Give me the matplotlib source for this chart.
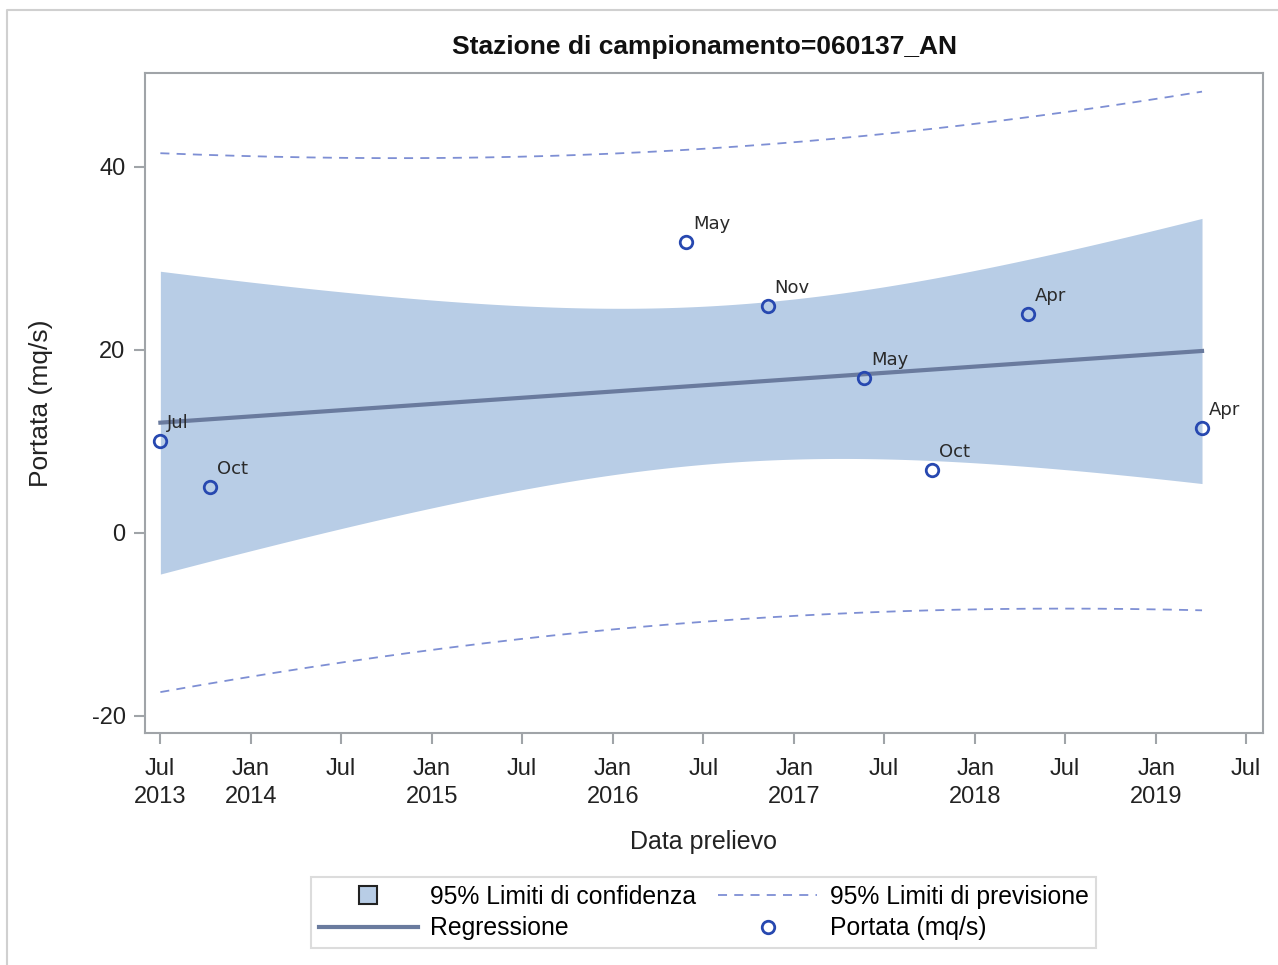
import matplotlib
matplotlib.use("Agg")
import matplotlib.pyplot as plt
import matplotlib.dates as mdates
from matplotlib.lines import Line2D
import numpy as np

plt.rcParams['font.family'] = ['Liberation Sans', 'DejaVu Sans']
plt.rcParams['axes.unicode_minus'] = False

# dati
date_prelievo = ['2013-07-02', '2013-10-10', '2016-05-27', '2016-11-08',
                 '2017-05-21', '2017-10-05', '2018-04-17', '2019-04-03']
portata = [10.0, 5.0, 31.8, 24.8, 16.9, 6.9, 23.9, 11.5]
etichette = ['Jul', 'Oct', 'May', 'Nov', 'May', 'Oct', 'Apr', 'Apr']

tick_date = ['2013-07-01', '2014-01-01', '2014-07-01', '2015-01-01', '2015-07-01',
             '2016-01-01', '2016-07-01', '2017-01-01', '2017-07-01', '2018-01-01',
             '2018-07-01', '2019-01-01', '2019-07-01']
tick_lab = ['Jul\n2013', 'Jan\n2014', 'Jul', 'Jan\n2015', 'Jul', 'Jan\n2016', 'Jul',
            'Jan\n2017', 'Jul', 'Jan\n2018', 'Jul', 'Jan\n2019', 'Jul']
y_ticks = [-20, 0, 20, 40]

x = mdates.datestr2num(date_prelievo)
y = np.array(portata)

# regressione lineare + bande 95%
n = len(x)
b1, b0 = np.polyfit(x, y, 1)
res = y - (b0 + b1 * x)
s = np.sqrt(np.sum(res ** 2) / (n - 2))
t_crit = 2.4469  # t(0.975, 6)
xx = np.linspace(x.min(), x.max(), 300)
yy = b0 + b1 * xx
sxx = np.sum((x - x.mean()) ** 2)
se_m = s * np.sqrt(1 / n + (xx - x.mean()) ** 2 / sxx)
se_p = s * np.sqrt(1 + 1 / n + (xx - x.mean()) ** 2 / sxx)

fig = plt.figure(figsize=(12.78, 9.65), dpi=100)
W, H = 1278, 965
# bordo esterno (solo sinistra e sopra visibili)
fig.add_artist(Line2D([7 / W, 7 / W, 1], [0, 1 - 10 / H, 1 - 10 / H],
                      transform=fig.transFigure, color='#D0D0D0', lw=1.5))
ax = fig.add_axes([145 / W, (H - 733) / H, (1263 - 145) / W, (733 - 73) / H])

col_band = '#B8CDE6'
col_line = '#6A7B9E'
col_pred = '#7E8FD4'
col_pt = '#2748B0'

ax.fill_between(xx, yy - t_crit * se_m, yy + t_crit * se_m, color=col_band, lw=0)
ax.plot(xx, yy, color=col_line, lw=3)
ax.plot(xx, yy + t_crit * se_p, color=col_pred, lw=1.3, dashes=(5, 4))
ax.plot(xx, yy - t_crit * se_p, color=col_pred, lw=1.3, dashes=(5, 4))
ax.plot(x, y, 'o', ms=9, mfc='none', mec=col_pt, mew=2)
for xi, yi, lab in zip(x, y, etichette):
    ax.annotate(lab, (xi, yi), xytext=(7, 9), textcoords='offset pixels',
                ha='left', va='bottom', fontsize=13, color='#2a2a2a',
                family='DejaVu Sans')

ax.set_xlim(mdates.datestr2num('2013-06-01'), mdates.datestr2num('2019-08-04'))
ax.set_ylim(-21.86, 50.27)
ax.set_xticks(mdates.datestr2num(tick_date))
ax.set_xticklabels(tick_lab, linespacing=1.35)
ax.set_yticks(y_ticks)
ax.tick_params(labelsize=17, color='#A0A4A8', length=8, width=1.5,
               labelcolor='#222222')
ax.tick_params(axis='x', pad=10)
ax.tick_params(axis='y', pad=6)
for sp in ax.spines.values():
    sp.set_color('#A0A4A8')
    sp.set_linewidth(1.5)

ax.set_title('Stazione di campionamento=060137_AN', fontsize=19, fontweight='bold',
             pad=14, color='#111111')
ax.set_xlabel('Data prelievo', fontsize=18, labelpad=16, color='#222222')
ax.set_ylabel('Portata (mq/s)', fontsize=19, labelpad=28, color='#222222')

handles = [
    Line2D([], [], marker='s', ls='none', ms=13, mfc=col_band, mec='#222222', mew=1.5),
    Line2D([], [], color=col_line, lw=3),
    Line2D([], [], color=col_pred, lw=1.3, dashes=(5, 4)),
    Line2D([], [], marker='o', ls='none', ms=9, mfc='none', mec=col_pt, mew=2),
]
labels = ['95% Limiti di confidenza', 'Regressione', '95% Limiti di previsione',
          'Portata (mq/s)']
leg = fig.legend(handles, labels, ncol=2, loc='center',
                 bbox_to_anchor=(703.5 / W, 1 - 912.5 / H), fontsize=17.8,
                 frameon=True, fancybox=False, edgecolor='#D4D4D4',
                 handlelength=4, columnspacing=0.9, labelspacing=0.3,
                 borderpad=0.3, handletextpad=0.5, borderaxespad=0)
leg.get_frame().set_linewidth(1.5)

fig.savefig('out.png', dpi=100)
